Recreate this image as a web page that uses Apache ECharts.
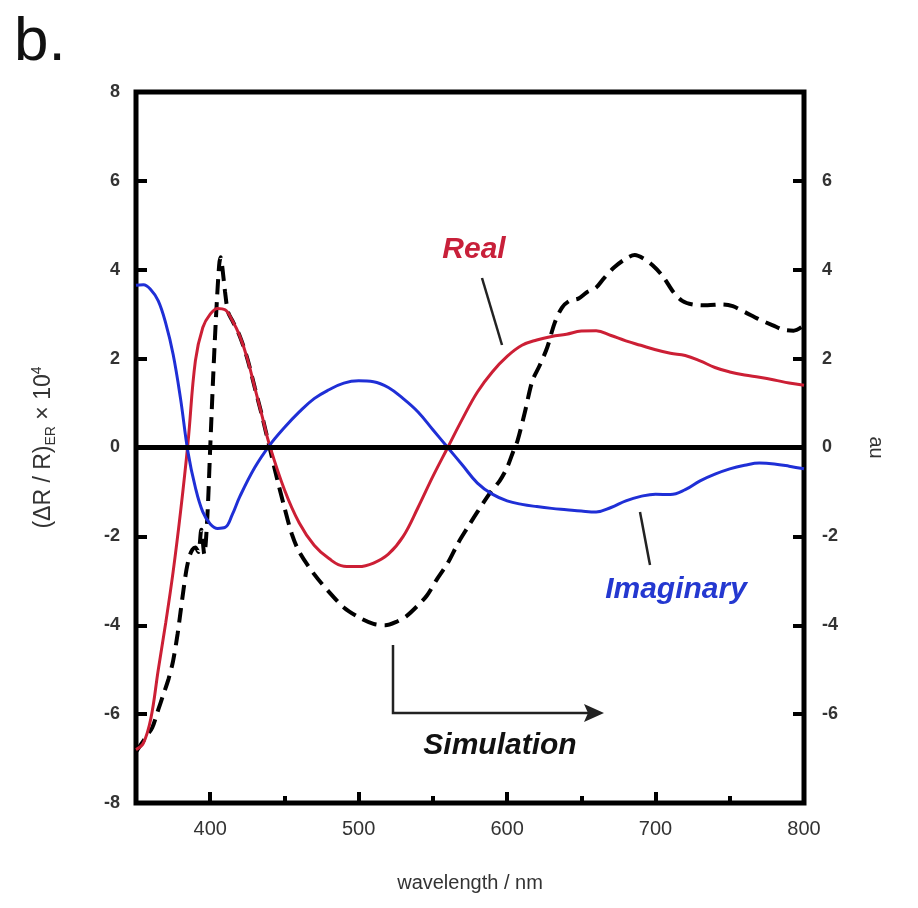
<!DOCTYPE html>
<html>
<head>
<meta charset="utf-8">
<script src="https://cdn.jsdelivr.net/npm/echarts@6/dist/echarts.min.js"></script>
<style>
  html, body { margin: 0; padding: 0; background: #fff; }
  #main { width: 918px; height: 908px; }
</style>
</head>
<body>
<div id="main"></div>
<script>
// 波长 / nm 与各曲线数值
var wlReal = [350, 355, 360, 365, 370, 375, 380, 385, 390, 395, 400, 405, 410, 415, 420, 425, 430, 435, 440,
  450, 460, 470, 480, 490, 500, 510, 520, 530, 540, 550, 560, 570, 580, 590, 600, 610, 620, 630, 640,
  650, 660, 670, 680, 690, 700, 710, 720, 730, 740, 750, 760, 770, 780, 790, 800];
var real = [-6.8, -6.65, -6.1, -5.0, -3.95, -2.8, -1.45, 0.1, 1.95, 2.7, 3.0, 3.13, 3.1, 2.85, 2.5, 2.0, 1.35, 0.7, 0.05,
  -0.95, -1.7, -2.2, -2.5, -2.67, -2.68, -2.6, -2.4, -2.0, -1.35, -0.65, 0, 0.65, 1.25, 1.7, 2.05, 2.3, 2.42, 2.5, 2.55,
  2.62, 2.63, 2.52, 2.4, 2.3, 2.2, 2.12, 2.07, 1.95, 1.8, 1.7, 1.63, 1.58, 1.52, 1.45, 1.4];

var wlImag = [350, 355, 360, 365, 370, 375, 380, 385, 390, 395, 400, 405, 410, 415, 420, 430, 440, 450, 460, 470,
  480, 490, 500, 510, 520, 530, 540, 550, 560, 570, 580, 590, 600, 610, 620, 630, 640, 650, 660, 670, 680,
  690, 700, 710, 720, 730, 740, 750, 760, 770, 780, 790, 800];
var imag = [3.65, 3.66, 3.55, 3.3, 2.8, 2.1, 1.1, -0.1, -0.9, -1.45, -1.72, -1.82, -1.8, -1.5, -1.1, -0.45, 0.05, 0.45, 0.8, 1.1,
  1.3, 1.45, 1.5, 1.48, 1.35, 1.1, 0.8, 0.4, 0, -0.4, -0.8, -1.05, -1.2, -1.28, -1.33, -1.37, -1.4, -1.43, -1.45, -1.35, -1.2,
  -1.1, -1.05, -1.06, -0.95, -0.75, -0.6, -0.48, -0.4, -0.35, -0.37, -0.42, -0.48];

var wlSim = [350, 353, 357, 361, 365, 368, 372, 375, 378, 380, 382, 384, 386, 388, 390, 392, 394, 396, 398, 400,
  402, 404, 406, 407, 408, 410, 412, 415, 420, 425, 430, 435, 440, 445, 450, 455, 460, 470, 480, 490, 500,
  510, 518, 525, 532, 540, 546, 553, 560, 567, 573, 580, 589, 595, 600, 604, 607, 612, 617, 622, 627, 632,
  637, 642, 648, 654, 660, 665, 672, 680, 686, 692, 698, 705, 712, 718, 725, 735, 745, 752, 760, 770, 779,
  786, 793, 800];
var sim = [-6.85, -6.7, -6.5, -6.3, -5.9, -5.6, -5.2, -4.8, -4.2, -3.7, -3.2, -2.75, -2.45, -2.3, -2.25, -2.35, -1.85, -2.4, -1.6, 0,
  1.6, 3.0, 4.1, 4.28, 4.1, 3.5, 3.05, 2.85, 2.5, 2.0, 1.35, 0.7, 0, -0.7, -1.35, -1.95, -2.35, -2.85, -3.25, -3.6, -3.82,
  -3.97, -4.0, -3.93, -3.8, -3.55, -3.33, -2.95, -2.6, -2.15, -1.82, -1.45, -1.0, -0.75, -0.45, -0.1, 0.15, 0.8, 1.5, 1.85, 2.25, 2.8,
  3.15, 3.3, 3.35, 3.5, 3.6, 3.8, 4.05, 4.25, 4.33, 4.25, 4.1, 3.85, 3.5, 3.3, 3.22, 3.2, 3.22, 3.18, 3.05, 2.88, 2.75,
  2.65, 2.63, 2.75];

var xMajor = [400, 500, 600, 700, 800];
var xMinor = [450, 550, 650, 750];
var yTicks = [-6, -4, -2, 0, 2, 4, 6];

function zip(xs, ys) {
  return xs.map(function (x, i) { return [x, ys[i]]; });
}

var FONT = 'Liberation Sans, Arial, sans-serif';
var myChart = echarts.init(document.getElementById('main'), null, { renderer: 'canvas' });

var tickStyle = { color: '#000', width: 4 };

myChart.setOption({
  animation: false,
  backgroundColor: '#fff',
  grid: {
    left: 136, right: 114, top: 92, bottom: 105,
    show: true, borderColor: '#000', borderWidth: 5, backgroundColor: 'transparent'
  },
  xAxis: [{
    type: 'value', min: 350, max: 800,
    axisLine: { show: false, onZero: false },
    splitLine: { show: false },
    axisTick: { inside: true, length: 11, customValues: xMajor, lineStyle: tickStyle },
    axisLabel: { customValues: xMajor, margin: 16, fontSize: 20, color: '#333', fontFamily: FONT },
    name: 'wavelength / nm', nameLocation: 'middle', nameGap: 70,
    nameTextStyle: { fontSize: 20, color: '#333', fontFamily: FONT }
  }, {
    // 次刻度
    type: 'value', min: 350, max: 800, position: 'bottom',
    axisLine: { show: false, onZero: false },
    splitLine: { show: false },
    axisTick: { inside: true, length: 7, customValues: xMinor, lineStyle: tickStyle },
    axisLabel: { show: false }
  }],
  yAxis: [{
    type: 'value', min: -8, max: 8, interval: 2, position: 'left',
    axisLine: { show: false, onZero: false },
    splitLine: { show: false },
    axisTick: { inside: true, length: 11, customValues: yTicks, lineStyle: tickStyle },
    axisLabel: { margin: 16, fontSize: 18, fontWeight: 'bold', color: '#333', fontFamily: FONT },
    name: '(ΔR / R){sub|ER} × 10{sup|4}',
    nameLocation: 'middle', nameGap: 78, nameRotate: 90,
    nameTextStyle: {
      fontSize: 23, color: '#333', fontFamily: FONT, lineHeight: 28,
      rich: {
        sub: { fontSize: 14, color: '#333', fontFamily: FONT, verticalAlign: 'bottom', lineHeight: 14 },
        sup: { fontSize: 14, color: '#333', fontFamily: FONT, verticalAlign: 'top', lineHeight: 14 }
      }
    }
  }, {
    type: 'value', min: -8, max: 8, interval: 2, position: 'right',
    axisLine: { show: false, onZero: false },
    splitLine: { show: false },
    axisTick: { inside: true, length: 11, customValues: yTicks, lineStyle: tickStyle },
    axisLabel: {
      margin: 18, fontSize: 18, fontWeight: 'bold', color: '#333', fontFamily: FONT,
      formatter: function (v) { return Math.abs(v) === 8 ? '' : v; }
    },
    name: 'au', nameLocation: 'middle', nameGap: 62, nameRotate: -90,
    nameTextStyle: { fontSize: 20, color: '#333', fontFamily: FONT }
  }],
  series: [{
    name: 'zero', type: 'line', data: [], z: 1,
    markLine: {
      silent: true, symbol: 'none', label: { show: false },
      lineStyle: { color: '#000', width: 5, type: 'solid' },
      data: [{ yAxis: 0 }]
    }
  }, {
    name: 'Simulation', type: 'line', yAxisIndex: 1, data: zip(wlSim, sim),
    smooth: 0.3, showSymbol: false, z: 3,
    lineStyle: { color: '#000', width: 4, type: [15, 8] }
  }, {
    name: 'Real', type: 'line', data: zip(wlReal, real),
    smooth: 0.4, showSymbol: false, z: 4,
    lineStyle: { color: '#cc1f35', width: 3 }
  }, {
    name: 'Imaginary', type: 'line', data: zip(wlImag, imag),
    smooth: 0.4, showSymbol: false, z: 4,
    lineStyle: { color: '#1f2fd6', width: 3 }
  }],
  graphic: [
    { type: 'text', left: 14, top: 12, style: { text: 'b.', fontSize: 62, fill: '#111', fontFamily: FONT } },
    { type: 'text', x: 474, y: 250, style: { text: 'Real', fontSize: 30, fontWeight: 'bold', fontStyle: 'italic', fill: '#c8203a', fontFamily: FONT, align: 'center', verticalAlign: 'middle' } },
    { type: 'line', shape: { x1: 482, y1: 278, x2: 502, y2: 345 }, style: { stroke: '#222', lineWidth: 2.5 } },
    { type: 'text', x: 676, y: 590, style: { text: 'Imaginary', fontSize: 30, fontWeight: 'bold', fontStyle: 'italic', fill: '#2438d0', fontFamily: FONT, align: 'center', verticalAlign: 'middle' } },
    { type: 'line', shape: { x1: 640, y1: 512, x2: 650, y2: 565 }, style: { stroke: '#222', lineWidth: 2.5 } },
    { type: 'text', x: 500, y: 746, style: { text: 'Simulation', fontSize: 30, fontWeight: 'bold', fontStyle: 'italic', fill: '#111', fontFamily: FONT, align: 'center', verticalAlign: 'middle' } },
    { type: 'polyline', shape: { points: [[393, 645], [393, 713], [598, 713]] }, style: { stroke: '#222', lineWidth: 2.5, fill: null } },
    { type: 'polygon', shape: { points: [[604, 713], [584, 704], [588, 713], [584, 722]] }, style: { fill: '#222' } }
  ]
});
</script>
</body>
</html>
